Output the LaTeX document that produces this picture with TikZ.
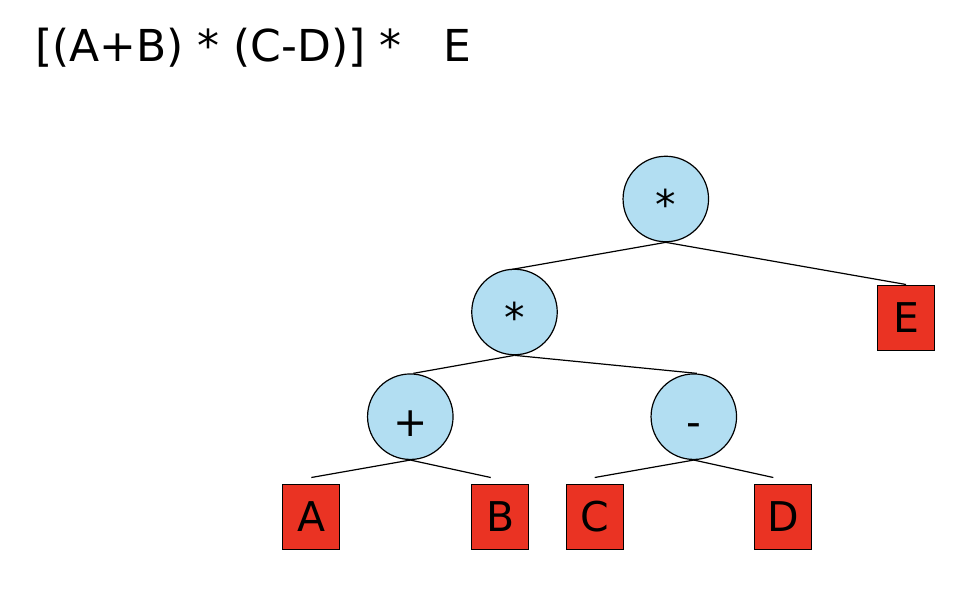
\documentclass[tikz,border=0pt]{standalone}
\usepackage{fontspec}
\setmainfont{DejaVu Sans}
\usetikzlibrary{shapes.geometric,calc}
\definecolor{opfill}{RGB}{178,222,242}
\definecolor{leaffill}{RGB}{234,51,35}
\tikzset{
  opnode/.style={circle, draw=black, line width=1.2pt, fill=opfill,
    inner sep=0pt, minimum size=85.5pt, font=\fontsize{41pt}{41pt}\selectfont,
    text height=40pt, text depth=0pt},
  leafnode/.style={rectangle, draw=black, line width=1pt, fill=leaffill,
    inner sep=0pt, minimum width=57pt, minimum height=65pt,
    font=\fontsize{41pt}{41pt}\selectfont, text height=30pt, text depth=0pt},
  edge/.style={draw=black, line width=1.2pt}
}
\begin{document}
\begin{tikzpicture}[x=1pt, y=-1pt]
\useasboundingbox (0,0) rectangle (966,596);
% expression heading
\node[anchor=base west, inner sep=0pt, font=\fontsize{44pt}{44pt}\selectfont]
  (expr) at (35,62) {[(A+B) * (C-D)] *\ \ \ E};
% operator nodes
\node[opnode] (root) at (665.8,199) {*};
\node[opnode] (mul) at (514.5,312) {*};
\node[opnode] (plus) at (410.3,416.7) {+};
\node[opnode] (minus) at (693.8,416.7) {-};
% operand leaves
\node[leafnode] (E) at (906,317.5) {E};
\node[leafnode] (A) at (311.3,516.5) {A};
\node[leafnode] (B) at (500.3,516.5) {B};
\node[leafnode] (C) at (594.7,516.5) {C};
\node[leafnode] (D) at (783.3,516.5) {D};
% edge ends that stop short of the leaves
\coordinate (Atop) at ($(A.north)+(0,-6)$);
\coordinate (Btop) at ($(B.north)+(-9.6,-6)$);
\coordinate (Ctop) at ($(C.north)+(0,-6)$);
\coordinate (Dtop) at ($(D.north)+(-10,-6)$);
% tree edges
\draw[edge] (root.south) -- ($(mul.north)+(-4,1)$);
\draw[edge] (root.south) -- (E.north);
\draw[edge] (mul.south) -- ($(plus.north)+(3,0)$);
\draw[edge] (mul.south) -- ($(minus.north)+(3,0)$);
\draw[edge] (plus.south) -- (Atop);
\draw[edge] (plus.south) -- (Btop);
\draw[edge] (minus.south) -- (Ctop);
\draw[edge] (minus.south) -- (Dtop);
\end{tikzpicture}
\end{document}
